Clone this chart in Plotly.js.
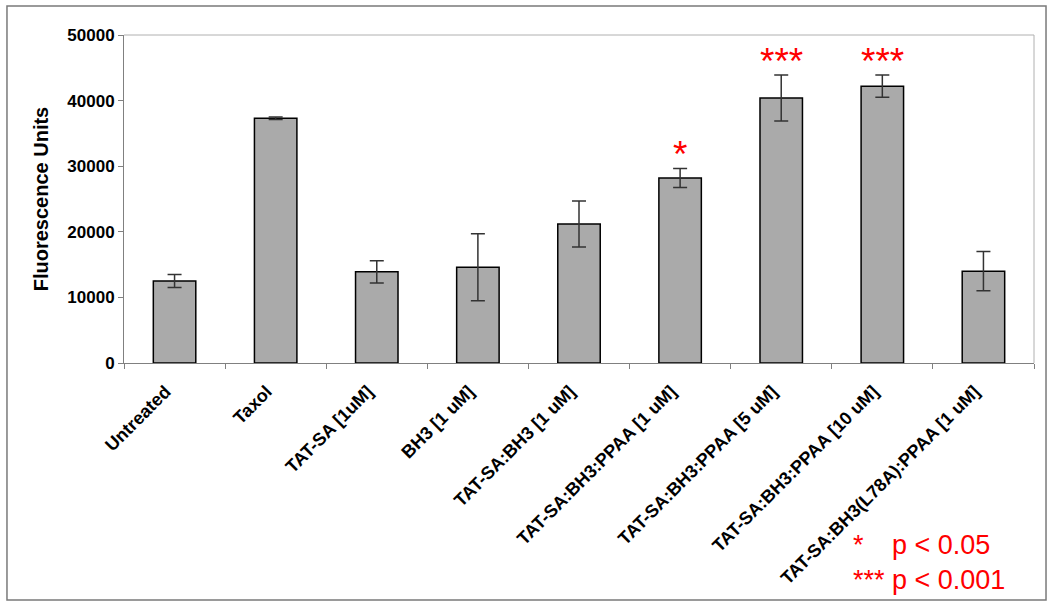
<!DOCTYPE html>
<html>
<head>
<meta charset="utf-8">
<script src="https://cdn.plot.ly/plotly-3.0.1.min.js"></script>
<style>html,body{margin:0;padding:0;background:#fff;}#chart{width:1050px;height:607px;}</style>
</head>
<body>
<div id="chart"></div>
<script>
var categories = ["Untreated", "Taxol", "TAT-SA [1uM]", "BH3 [1 uM]", "TAT-SA:BH3 [1 uM]",
  "TAT-SA:BH3:PPAA [1 uM]", "TAT-SA:BH3:PPAA [5 uM]", "TAT-SA:BH3:PPAA [10 uM]", "TAT-SA:BH3(L78A):PPAA [1 uM]"];
var values = [12500, 37300, 13900, 14600, 21200, 28200, 40400, 42200, 14000];
var errors = [1000, 200, 1700, 5100, 3500, 1450, 3500, 1700, 3000];
var significance = ["", "", "", "", "", "*", "***", "***", ""];
var yTicks = [0, 10000, 20000, 30000, 40000, 50000];
var legendStars = ["*", "***"];
var legendTexts = ["p < 0.05", "p < 0.001"];

var FONT = "Liberation Sans, Arial, sans-serif";

var trace = {
  type: "bar",
  x: categories,
  y: values,
  marker: {color: "#aaaaaa", line: {color: "#000000", width: 1.5}},
  error_y: {type: "data", array: errors, visible: true, color: "#333333", thickness: 1.5, width: 7},
  hoverinfo: "none"
};

var annotations = [];
for (var i = 0; i < categories.length; i++) {
  if (significance[i]) {
    annotations.push({
      x: categories[i], y: values[i] + errors[i] + 2100, xref: "x", yref: "y",
      text: significance[i], showarrow: false, xanchor: "center", yanchor: "middle",
      font: {family: FONT, size: 37, color: "#ff0000"}
    });
  }
}
var legY = [-0.555, -0.662];
for (var j = 0; j < legendStars.length; j++) {
  annotations.push({
    x: 0.7989, y: legY[j], xref: "paper", yref: "paper", text: legendStars[j],
    showarrow: false, xanchor: "left", yanchor: "middle",
    font: {family: FONT, size: 27, color: "#ff0000"}
  });
  annotations.push({
    x: 0.8418, y: legY[j], xref: "paper", yref: "paper", text: legendTexts[j],
    showarrow: false, xanchor: "left", yanchor: "middle",
    font: {family: FONT, size: 27, color: "#ff0000"}
  });
}

var layout = {
  width: 1050, height: 607,
  margin: {l: 124, r: 16, t: 35, b: 244},
  paper_bgcolor: "#ffffff", plot_bgcolor: "#ffffff",
  showlegend: false,
  bargap: 0.58,
  xaxis: {
    type: "category",
    tickangle: -45,
    tickson: "boundaries",
    ticks: "outside", ticklen: 5, tickcolor: "#808080",
    showline: true, linecolor: "#808080", linewidth: 1,
    showgrid: false,
    ticklabelstandoff: 10,
    ticklabelshift: -9,
    tickfont: {family: FONT, size: 18, color: "#000000", weight: "bold"}
  },
  yaxis: {
    range: [0, 50000],
    tickvals: yTicks,
    ticktext: yTicks.map(String),
    ticks: "outside", ticklen: 5, tickcolor: "#808080",
    showline: true, linecolor: "#808080", linewidth: 1,
    showgrid: false, zeroline: false,
    tickfont: {family: FONT, size: 17, color: "#000000", weight: "bold"},
    title: {text: "Fluorescence Units", font: {family: FONT, size: 20, color: "#000000", weight: "bold"}, standoff: 13}
  },
  shapes: [
    {type: "line", xref: "paper", yref: "paper", x0: 0, x1: 1, y0: 1, y1: 1, line: {color: "#b0b0b0", width: 1}},
    {type: "line", xref: "paper", yref: "paper", x0: 1, x1: 1, y0: 0, y1: 1, line: {color: "#b0b0b0", width: 1}},
    {type: "rect", xref: "paper", yref: "paper", x0: -0.1286, x1: 1.0132, y0: -0.7226, y1: 1.0884, line: {color: "#7a7a7a", width: 1.5}}
  ],
  annotations: annotations
};

Plotly.newPlot("chart", [trace], layout, {displayModeBar: false, staticPlot: true});
</script>
</body>
</html>
